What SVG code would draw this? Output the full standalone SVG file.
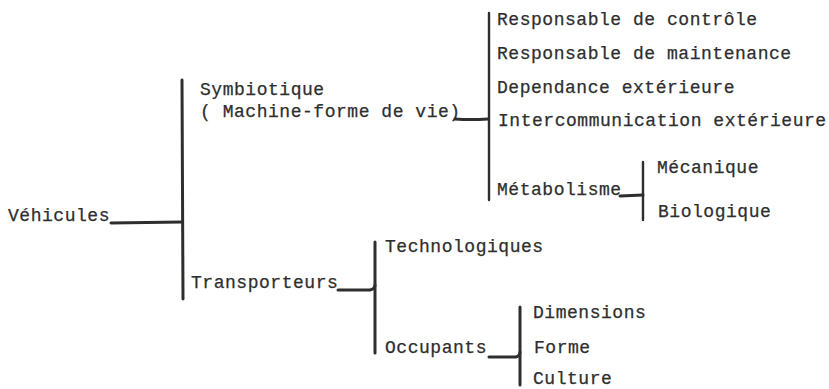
<svg xmlns="http://www.w3.org/2000/svg" width="829" height="389" viewBox="0 0 829 389">
<style>
text{font-family:"Liberation Mono","DejaVu Sans Mono",monospace;font-size:18px;letter-spacing:0.53px;fill:#2e2e2e;stroke:#2e2e2e;stroke-width:0.25}
.ln{stroke:#2e2e2e;fill:none;stroke-linecap:round;stroke-linejoin:round}
.w3{stroke-width:3}
.w2{stroke-width:2.4}
</style>
<rect width="829" height="389" fill="#ffffff"/>
<g id="connectors">
<path class="ln w3" d="M182 80 L183 299"/>
<path class="ln w3" d="M111 223 L182 222"/>
<path class="ln w2" d="M489 13 L489 200"/>
<path class="ln w3" d="M455 119 Q470 120 488 119"/>
<path class="ln w3" d="M620 196 L643 195"/>
<path class="ln w2" d="M643 162 L643 220"/>
<path class="ln w3" d="M338 290 L370 290 Q375 289 375 285"/>
<path class="ln w3" d="M375 242 L375 353"/>
<path class="ln w3" d="M489 357 L516 357 Q520 356 520 352"/>
<path class="ln w3" d="M520 307 L520 385"/>
</g>
<g id="vehicules"><text x="8" y="221">Véhicules</text></g>
<g id="symbiotique"><text x="200" y="95">Symbiotique</text><text x="200" y="117">( Machine-forme de vie)</text></g>
<g id="transporteurs"><text x="191" y="288">Transporteurs</text></g>
<g id="controle"><text x="497" y="25">Responsable de contrôle</text></g>
<g id="maintenance"><text x="497" y="59">Responsable de maintenance</text></g>
<g id="dependance"><text x="497" y="93">Dependance extérieure</text></g>
<g id="intercom"><text x="498" y="126">Intercommunication extérieure</text></g>
<g id="metabolisme"><text x="497" y="195">Métabolisme</text></g>
<g id="mecanique"><text x="657" y="173">Mécanique</text></g>
<g id="biologique"><text x="658" y="217">Biologique</text></g>
<g id="technologiques"><text x="385" y="252">Technologiques</text></g>
<g id="occupants"><text x="385" y="353">Occupants</text></g>
<g id="dimensions"><text x="533" y="318">Dimensions</text></g>
<g id="forme"><text x="534" y="353">Forme</text></g>
<g id="culture"><text x="533" y="384">Culture</text></g>
</svg>
